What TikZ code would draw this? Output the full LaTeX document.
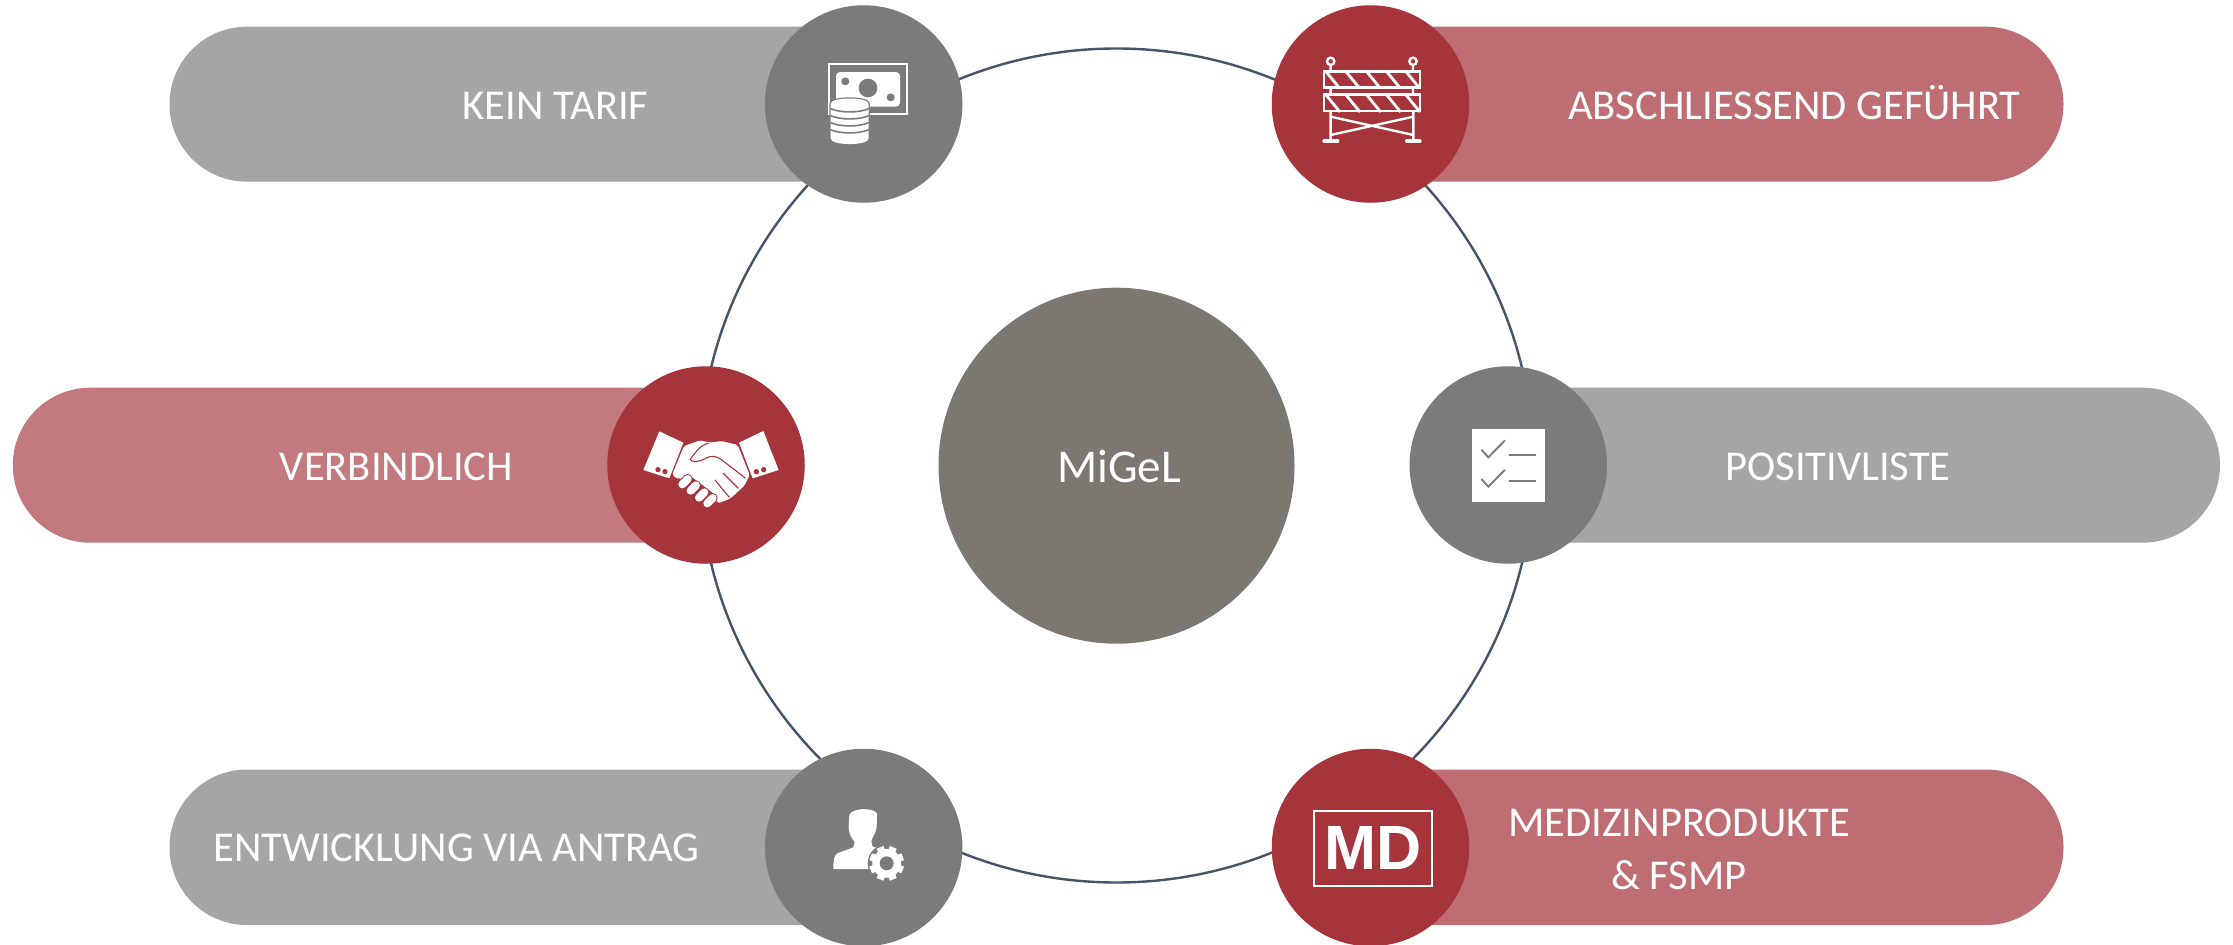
\documentclass[tikz,border=0pt]{standalone}
\usepackage{fontspec}
\setmainfont{Carlito}
\newfontfamily\mdfont{Liberation Sans}
\definecolor{ringc}{HTML}{44546A}
\definecolor{greybar}{HTML}{A5A5A5}
\definecolor{greydisc}{HTML}{7B7B7B}
\definecolor{reddisc}{HTML}{A5343B}
\definecolor{pinkbar}{HTML}{BE6D73}
\definecolor{pinkbarb}{HTML}{C27A7E}
\definecolor{hub}{HTML}{7C7771}
\tikzset{
  disc/.style={circle,draw=none,inner sep=0pt,minimum size=197.5pt},
  greyd/.style={disc,fill=greydisc},
  redd/.style={disc,fill=reddisc},
  pill/.style={rounded corners=77.5pt,draw=none},
  lab/.style={text=white,font=\fontsize{42.5}{53}\selectfont,align=center,inner sep=0pt,anchor=base},
  icon/.style={scale=0.33333},
}
\begin{document}
\begin{tikzpicture}[x=1pt,y=-1pt]
\useasboundingbox (0,0) rectangle (2233,945);
\fill[white] (0,0) rectangle (2233,945);
% ring
\node[circle,draw=ringc,line width=2.4pt,inner sep=0pt,minimum size=834pt] (ring) at (1116.5,465.5) {};
% bars
\fill[pill,greybar] (169.5,26.7) rectangle (900,181.7);
\fill[pill,pinkbar] (1330,26.7) rectangle (2063.5,181.7);
\fill[pill,pinkbarb] (12.8,387.7) rectangle (750,542.7);
\fill[pill,greybar] (1460,387.7) rectangle (2220,542.7);
\fill[pill,greybar] (169.5,769.5) rectangle (900,925);
\fill[pill,pinkbar] (1330,769.5) rectangle (2063.5,925);
% discs
\node[greyd] (tl) at (863.7,104) {};
\node[redd] (tr) at (1370.5,104) {};
\node[redd] (ml) at (706,465) {};
\node[greyd] (mr) at (1508.3,465) {};
\node[greyd] (bl) at (863.7,847.5) {};
\node[redd] (br) at (1370.5,847.5) {};
\node[circle,fill=hub,inner sep=0pt,minimum size=356pt] (hubc) at (1116.5,465.7) {};
% labels
\node[lab] (t1) at (555.5,119.3) {KEIN TARIF};
\node[lab] (t2) at (1794.5,119.3) {ABSCHLIESSEND GEFÜHRT};
\node[lab] (t3) at (396.5,480.3) {VERBINDLICH};
\node[lab] (t4) at (1838,480.3) {POSITIVLISTE};
\node[lab] (t5) at (456.5,861.7) {ENTWICKLUNG VIA ANTRAG};
\node[lab] (t6a) at (1679,836.5) {MEDIZINPRODUKTE};
\node[lab] (t6b) at (1679,889.5) {\& FSMP};
\node[lab,font=\fontsize{47}{50}\selectfont] (t0) at (1119,482) {MiGeL};
% money icon
\begin{scope}[shift={(750,0)},icon]
  \draw[white,line width=2pt] (236,193) rectangle (472,343);
  \fill[white,rounded corners=4pt] (258,216) rectangle (450,320);
  \fill[greydisc] (286,244) circle (12) (354,264) circle (28) (422,292) circle (12);
  \filldraw[greydisc,line width=2.4pt] (242,312) .. controls (242,290) and (356,290) .. (356,312) -- (356,415) .. controls (356,438) and (242,438) .. (242,415) -- cycle;
  \fill[white] (242,312) .. controls (242,290) and (356,290) .. (356,312) -- (356,415) .. controls (356,438) and (242,438) .. (242,415) -- cycle;
  \foreach \yy in {326,347,368,389}
    \draw[greydisc,line width=1.6pt] (242,\yy) .. controls (270,\yy+13) and (328,\yy+13) .. (356,\yy);
\end{scope}
% barrier icon
\begin{scope}[shift={(1260,0)},icon]
  \begin{scope}
    \clip (188,210) rectangle (484,266);
    \foreach \xx in {194,254,316,376,434}
      \draw[white,line width=2.8pt] (\xx,210) -- (\xx+46,266);
  \end{scope}
  \begin{scope}
    \clip (188,280) rectangle (484,336);
    \foreach \xx in {194,254,316,376,434}
      \draw[white,line width=2.8pt] (\xx,280) -- (\xx+46,336);
  \end{scope}
  \draw[white,line width=2.6pt] (192,214) rectangle (480,263) (192,284) rectangle (480,333);
  \draw[white,line width=2.4pt] (212,198) -- (212,210) (212,265) -- (212,282) (459,198) -- (459,210) (459,265) -- (459,282)
     (212,336) -- (212,420) (460,336) -- (460,420)
     (212,350) -- (460,405) (460,350) -- (212,405);
  \draw[white,line width=2.4pt] (212,184) circle (11) (459,184) circle (11);
  \draw[white,line width=3.4pt,line cap=round] (192,423) -- (233,423) (440,423) -- (480,423);
\end{scope}
% handshake icon
\begin{scope}[shift={(600,360)},icon]
  \fill[white] (178,214) -- (250,248) -- (208,355) -- (130,330) -- cycle;
  \fill[white] (490,213) -- (417,248) -- (458,355) -- (536,330) -- cycle;
  \fill[reddisc] (174,329) circle (8) (195,335) circle (8) (469,335) circle (8) (491,329) circle (8);
  \fill[white,rounded corners=2pt] (252,258) -- (300,241) -- (330,248) -- (365,243) -- (413,255) -- (449,345) -- (434,376) -- (392,415) -- (368,425) -- (352,430) -- (340,400) -- (268,345) -- (236,358) -- (216,345) -- cycle;
  \foreach \ax/\ay in {255/365, 280/384, 305/405, 330/422} {
    \draw[reddisc,line width=10pt,line cap=round] (\ax-8,\ay+8) -- (\ax+8,\ay-8);
    \draw[white,line width=8pt,line cap=round] (\ax-8,\ay+8) -- (\ax+8,\ay-8);
  }
  \draw[reddisc,line width=1.1pt,line cap=round,line join=round] (325,250) .. controls (300,255) and (285,280) .. (270,298) .. controls (275,308) and (300,306) .. (315,296) .. controls (335,284) and (350,290) .. (360,296) -- (436,354);
  \draw[reddisc,line width=1.1pt,line cap=round] (370,340) -- (415,385) (345,360) -- (388,412);
\end{scope}
% checklist icon
\begin{scope}[shift={(1400,360)},icon]
  \fill[white] (217,208) rectangle (434,425);
  \draw[greydisc,line width=1.9pt,line cap=round,line join=miter] (245,270) -- (265,292) -- (314,242) (245,358) -- (265,380) -- (314,330);
  \draw[greydisc,line width=2pt,line cap=round] (328,285) -- (406,285) (328,363) -- (406,363);
\end{scope}
% person icon
\begin{scope}[shift={(750,740)},icon]
  \fill[white] (298,225) .. controls (305,203) and (370,202) .. (381,220) -- (380,262) .. controls (376,285) and (364,295) .. (364,305) -- (368,320) -- (392,326) -- (358,350) -- (365,387) -- (250,387) .. controls (250,365) and (252,345) .. (262,340) -- (310,322) -- (314,305) .. controls (304,295) and (296,280) .. (296,262) -- cycle;
  \fill[greydisc] (410,370) circle (57);
  \foreach \a in {0,45,...,315}
    \fill[white,rotate around={\a+22.5:(410,370)}] (399,318) rectangle (421,340);
  \fill[white] (410,370) circle (43);
  \fill[greydisc] (410,370) circle (21);
\end{scope}
% MD icon
\begin{scope}[shift={(1260,740)},icon]
  \draw[white,line width=2.2pt] (161,212) rectangle (515,438);
  \node[text=white,font=\mdfont\bfseries\fontsize{62.5}{62.5}\selectfont,inner sep=0pt] (mdt) at (338,325) {MD};
\end{scope}
\end{tikzpicture}
\end{document}
